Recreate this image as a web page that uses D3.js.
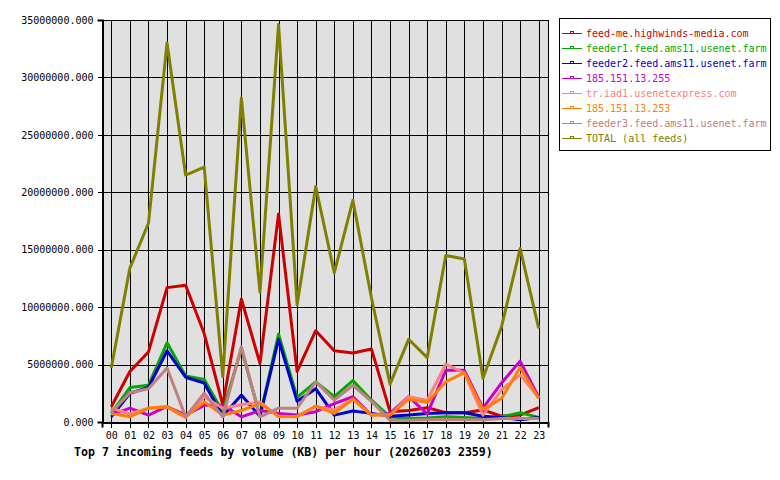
<!DOCTYPE html>
<html>
<head>
<meta charset="utf-8">
<script src="https://cdn.jsdelivr.net/npm/d3@7"></script>
<style>
  body { margin: 0; background: #fff; }
  svg { display: block; }
</style>
</head>
<body>
<svg id="chart" width="780" height="480"></svg>
<script>
// hours on the x axis
const hours = ["00","01","02","03","04","05","06","07","08","09","10","11",
               "12","13","14","15","16","17","18","19","20","21","22","23"];

// y tick values (KB)
const yTicks = [0, 5000000, 10000000, 15000000, 20000000, 25000000, 30000000, 35000000];

// feed names and colours, in legend order
const feedNames = [
  "feed-me.highwinds-media.com",
  "feeder1.feed.ams11.usenet.farm",
  "feeder2.feed.ams11.usenet.farm",
  "185.151.13.255",
  "tr.iad1.usenetexpress.com",
  "185.151.13.253",
  "feeder3.feed.ams11.usenet.farm",
  "TOTAL (all feeds)"
];
const feedColors = ["#cc0000", "#00aa00", "#0000cc", "#cc00cc", "#ff8080", "#ff8000", "#c08080", "#808000"];

// volumes per hour (KB)
const highwinds = [1330000, 4400000, 6100000, 11700000, 11900000, 7700000, 1500000, 10700000, 5100000, 18100000, 4400000, 7950000,
                   6200000, 6000000, 6350000, 900000, 1000000, 1250000, 800000, 800000, 1050000, 500000, 600000, 1250000];
const feeder1 = [750000, 3000000, 3200000, 6900000, 4000000, 3700000, 900000, 6400000, 500000, 7650000, 2150000, 3500000,
                 2200000, 3600000, 1900000, 450000, 300000, 350000, 450000, 400000, 300000, 450000, 800000, 400000];
const feeder2 = [450000, 2500000, 3000000, 6200000, 3900000, 3400000, 500000, 2350000, 500000, 7200000, 1800000, 2900000,
                 600000, 950000, 750000, 500000, 600000, 750000, 800000, 800000, 500000, 400000, 200000, 400000];
const ip255 = [600000, 1200000, 600000, 1350000, 600000, 1450000, 1450000, 450000, 1000000, 750000, 600000, 900000,
               1600000, 2200000, 600000, 750000, 2200000, 700000, 4500000, 4500000, 1200000, 3400000, 5300000, 2150000];
const iad1 = [1200000, 700000, 1200000, 1300000, 400000, 2200000, 1200000, 1500000, 1750000, 450000, 500000, 1350000,
              1050000, 2000000, 600000, 600000, 2200000, 1900000, 5050000, 4250000, 600000, 2800000, 4100000, 2100000];
const ip253 = [750000, 450000, 1200000, 1350000, 450000, 1750000, 600000, 1000000, 1600000, 500000, 450000, 1400000,
               750000, 2000000, 600000, 600000, 2000000, 1700000, 3500000, 4300000, 1100000, 2050000, 4750000, 2050000];
const feeder3 = [800000, 2550000, 2900000, 4700000, 450000, 2500000, 450000, 6550000, 450000, 1200000, 1200000, 3500000,
                 1900000, 3200000, 1800000, 150000, 150000, 200000, 250000, 200000, 200000, 300000, 300000, 300000];
const total = [4700000, 13400000, 17300000, 33000000, 21500000, 22200000, 3950000, 28200000, 11300000, 34600000, 10200000, 20500000,
               13000000, 19300000, 10800000, 3300000, 7200000, 5600000, 14500000, 14200000, 3800000, 8300000, 15100000, 8150000];

const series = [highwinds, feeder1, feeder2, ip255, iad1, ip253, feeder3, total];

const svg = d3.select("#chart");
const mono = "'DejaVu Sans Mono', monospace";

// plot area
const plotL = 102, plotR = 548, plotT = 20, plotB = 422;

const x = d3.scaleLinear().domain([-0.5, 23.5]).range([plotL, plotR]);
const y = d3.scaleLinear().domain([0, 35000000]).range([plotB, plotT]);

// background
svg.append("rect")
  .attr("x", plotL).attr("y", plotT)
  .attr("width", plotR - plotL).attr("height", plotB - plotT)
  .attr("fill", "#e0e0e0");

// grid lines
const grid = svg.append("g").attr("shape-rendering", "crispEdges");
grid.selectAll("line.h")
  .data(yTicks)
  .enter().append("line")
  .attr("x1", plotL).attr("x2", plotR)
  .attr("y1", d => Math.round(y(d)) + 0.5).attr("y2", d => Math.round(y(d)) + 0.5)
  .attr("stroke", "#000");
grid.selectAll("line.v")
  .data(hours)
  .enter().append("line")
  .attr("x1", (d, i) => Math.round(x(i)) + 0.5).attr("x2", (d, i) => Math.round(x(i)) + 0.5)
  .attr("y1", plotT).attr("y2", plotB)
  .attr("stroke", "#000");

// frame
svg.append("rect")
  .attr("x", plotL + 0.5).attr("y", plotT + 0.5)
  .attr("width", plotR - plotL).attr("height", plotB - plotT)
  .attr("fill", "none").attr("stroke", "#000")
  .attr("shape-rendering", "crispEdges");

// y axis
const yAxis = d3.axisLeft(y)
  .tickValues(yTicks)
  .tickSize(5)
  .tickPadding(4)
  .tickFormat(d => d3.format(".3f")(d));
const gy = svg.append("g")
  .attr("transform", `translate(${plotL + 0.5},0)`)
  .call(yAxis);
gy.select(".domain").attr("stroke", "#000").attr("stroke-width", 2);
gy.selectAll("text").attr("font-family", mono).attr("font-size", "10px").attr("fill", "#000");
gy.selectAll("line").attr("shape-rendering", "crispEdges");

// x axis
const xAxis = d3.axisBottom(x)
  .tickValues(d3.range(hours.length))
  .tickSize(5)
  .tickPadding(4)
  .tickFormat(i => hours[i]);
const gx = svg.append("g")
  .attr("transform", `translate(0,${plotB + 0.5})`)
  .call(xAxis);
gx.select(".domain").attr("stroke", "#000").attr("stroke-width", 2);
gx.selectAll("text").attr("font-family", mono).attr("font-size", "10px").attr("fill", "#000");
gx.selectAll("line").attr("shape-rendering", "crispEdges");

// data lines, drawn in legend order
const line = d3.line()
  .x((d, i) => x(i))
  .y(d => y(d));

svg.append("g")
  .selectAll("path")
  .data(series)
  .enter().append("path")
  .attr("d", line)
  .attr("fill", "none")
  .attr("stroke", (d, i) => feedColors[i])
  .attr("stroke-width", 3)
  .attr("stroke-linejoin", "round");

// legend
const legend = svg.append("g");
legend.append("rect")
  .attr("x", 559.5).attr("y", 18.5)
  .attr("width", 211).attr("height", 132)
  .attr("fill", "#fff").attr("stroke", "#000")
  .attr("shape-rendering", "crispEdges");

const items = legend.selectAll("g.item")
  .data(feedNames)
  .enter().append("g")
  .attr("transform", (d, i) => `translate(0,${33 + i * 15})`);
items.append("line")
  .attr("x1", 562).attr("x2", 582)
  .attr("y1", 0.5).attr("y2", 0.5)
  .attr("stroke", (d, i) => feedColors[i])
  .attr("shape-rendering", "crispEdges");
items.append("rect")
  .attr("x", 570.5).attr("y", -1.5)
  .attr("width", 3).attr("height", 2)
  .attr("fill", "none")
  .attr("stroke", (d, i) => feedColors[i])
  .attr("shape-rendering", "crispEdges");
items.append("text")
  .attr("x", 586).attr("y", 0)
  .attr("dy", "0.35em")
  .attr("font-family", mono).attr("font-size", "10px")
  .attr("fill", (d, i) => feedColors[i])
  .text(d => d);

// title below the chart
svg.append("text")
  .attr("x", 74).attr("y", 452)
  .attr("dy", "0.35em")
  .attr("font-family", mono).attr("font-size", "11.6px").attr("font-weight", "bold")
  .attr("fill", "#000")
  .text("Top 7 incoming feeds by volume (KB) per hour (20260203 2359)");
</script>
</body>
</html>
